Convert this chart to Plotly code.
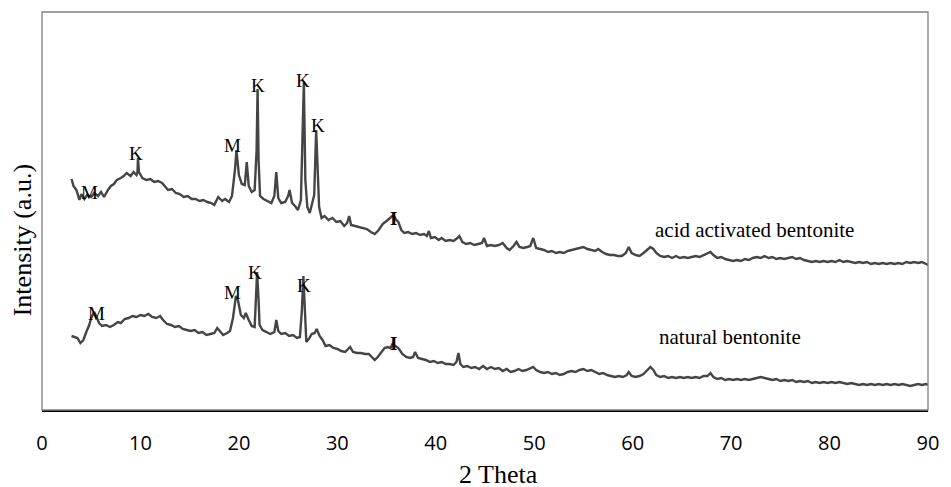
import plotly.graph_objects as go

# ---- data (2 theta in degrees, intensity in arbitrary units) ----
acid_theta = [
    3.0, 3.2, 3.5, 3.8, 4.0, 4.3, 4.6, 5.0, 5.3, 5.7,
    6.0, 6.3, 6.7, 7.0, 7.3, 7.6, 8.0, 8.3, 8.6, 9.0,
    9.3, 9.6, 9.7, 9.75, 9.85, 10.2, 10.6, 11.0, 11.4, 11.8,
    12.2, 12.5, 12.8, 13.2, 13.6, 14.0, 14.4, 14.8, 15.2, 15.6,
    16.0, 16.4, 16.8, 17.2, 17.5, 17.9, 18.3, 18.6, 19.0, 19.3,
    19.6, 19.75, 20.0, 20.3, 20.6, 20.8, 21.0, 21.3, 21.6, 21.8,
    21.9, 22.0, 22.15, 22.5, 22.9, 23.3, 23.6, 23.8, 24.0, 24.3,
    24.7, 25.0, 25.15, 25.4, 25.7, 26.0, 26.3, 26.5, 26.6, 26.75,
    26.95, 27.2, 27.5, 27.65, 27.85, 28.0, 28.15, 28.4, 28.7, 29.1,
    29.5, 29.9, 30.3, 30.7, 31.0, 31.2, 31.4, 31.8, 32.2, 32.6,
    33.0, 33.4, 33.8, 34.2, 34.6, 35.0, 35.4, 35.7, 36.0, 36.2,
    36.5, 36.8, 37.2, 37.6, 38.0, 38.4, 38.8, 39.1, 39.3, 39.5,
    39.9, 40.3, 40.6, 41.0, 41.4, 41.8, 42.2, 42.4, 42.7, 43.1,
    43.5, 43.9, 44.3, 44.7, 44.9, 45.2, 45.6, 46.0, 46.4, 46.8,
    47.2, 47.5, 47.9, 48.2, 48.5, 48.9, 49.3, 49.6, 49.9, 50.2,
    50.6, 51.0, 51.4, 51.8, 52.2, 52.6, 53.0, 53.4, 53.8, 54.2,
    54.6, 55.0, 55.4, 55.8, 56.2, 56.5, 56.9, 57.3, 57.7, 58.1,
    58.5, 58.9, 59.3, 59.6, 59.9, 60.3, 60.7, 61.1, 61.5, 61.8,
    62.1, 62.4, 62.8, 63.2, 63.6, 64.0, 64.4, 64.8, 65.2, 65.6,
    66.0, 66.4, 66.8, 67.2, 67.6, 67.9, 68.2, 68.6, 69.0, 69.4,
    69.8, 70.2, 70.6, 71.0, 71.4, 71.8, 72.2, 72.6, 73.0, 73.4,
    73.8, 74.2, 74.6, 75.0, 75.4, 75.8, 76.2, 76.6, 77.0, 77.4,
    77.8, 78.2, 78.6, 79.0, 79.4, 79.8, 80.2, 80.6, 81.0, 81.4,
    81.8, 82.2, 82.6, 83.0, 83.4, 83.8, 84.2, 84.6, 85.0, 85.4,
    85.8, 86.2, 86.6, 87.0, 87.4, 87.8, 88.2, 88.6, 89.0, 89.4,
    89.8, 90.0,
]
acid_intensity = [
    231, 224, 220, 210, 216, 211, 215, 213, 217, 214,
    218, 213, 220, 224, 226, 230, 232, 234, 237, 234,
    238, 235, 238, 252, 238, 232, 230, 231, 228, 229,
    227, 224, 220, 221, 217, 216, 213, 214, 211, 211,
    209, 210, 208, 207, 205, 213, 209, 211, 208, 214,
    240, 260, 235, 226, 225, 248, 224, 218, 220, 260,
    321, 250, 214, 211, 209, 207, 214, 238, 212, 207,
    208, 214, 220, 207, 204, 200, 210, 290, 328, 230,
    203, 197, 210, 215, 280, 235, 203, 192, 194, 190,
    192, 188, 189, 184, 187, 194, 185, 184, 183, 182,
    181, 178, 176, 180, 186, 189, 192, 195, 190, 188,
    180, 177, 178, 176, 177, 175, 176, 174, 179, 172,
    173, 170, 172, 169, 170, 169, 172, 174, 168, 166,
    167, 165, 166, 167, 172, 164, 165, 164, 165, 167,
    162, 160, 164, 168, 163, 162, 163, 164, 172, 162,
    161, 160, 158, 159, 157, 158, 157, 159, 160, 161,
    162, 163, 161, 160, 159, 161, 158, 156, 155, 155,
    154, 154, 157, 163, 157, 155, 154, 157, 161, 163,
    161, 157, 154, 153, 154, 152, 154, 152, 153, 152,
    153, 154, 153, 155, 157, 158, 155, 152, 153, 151,
    150, 149, 150, 149, 151, 150, 152, 153, 152, 154,
    152, 153, 151, 152, 151, 152, 153, 151, 152, 150,
    149, 148, 149, 148, 149, 148, 149, 148, 150, 148,
    149, 148, 147, 148, 147, 148, 146, 147, 146, 147,
    146, 147, 146, 147, 146, 148, 147, 148, 147, 148,
    146, 145,
]

natural_theta = [
    3.0, 3.3, 3.6, 3.9, 4.2, 4.5, 4.8, 5.0, 5.3, 5.5,
    5.8, 6.1, 6.5, 6.9, 7.3, 7.7, 8.0, 8.4, 8.8, 9.2,
    9.6, 10.0, 10.4, 10.8, 11.2, 11.6, 12.0, 12.3, 12.7, 13.1,
    13.5, 13.9, 14.3, 14.7, 15.1, 15.5, 15.9, 16.3, 16.7, 17.1,
    17.5, 17.8, 18.1, 18.4, 18.8, 19.1, 19.4, 19.7, 19.9, 20.2,
    20.5, 20.7, 21.0, 21.3, 21.6, 21.75, 21.85, 22.0, 22.1, 22.4,
    22.8, 23.2, 23.6, 23.8, 24.0, 24.3, 24.7, 25.1, 25.5, 25.9,
    26.2, 26.4, 26.55, 26.7, 26.85, 27.1, 27.4, 27.7, 27.9, 28.2,
    28.5, 28.8, 29.2, 29.6, 30.0, 30.4, 30.8, 31.1, 31.3, 31.6,
    32.0, 32.4, 32.8, 33.2, 33.5, 33.8, 34.1, 34.4, 34.8, 35.1,
    35.4, 35.6, 35.9, 36.2, 36.6, 37.0, 37.4, 37.7, 37.9, 38.2,
    38.6, 39.0, 39.4, 39.8, 40.2, 40.6, 41.0, 41.4, 41.8, 42.1,
    42.3, 42.5, 42.8, 43.2, 43.6, 44.0, 44.4, 44.8, 45.2, 45.6,
    46.0, 46.4, 46.8, 47.2, 47.6, 48.0, 48.4, 48.8, 49.2, 49.6,
    49.9, 50.2, 50.6, 51.0, 51.4, 51.8, 52.2, 52.6, 53.0, 53.4,
    53.8, 54.2, 54.6, 55.0, 55.4, 55.8, 56.2, 56.6, 57.0, 57.4,
    57.8, 58.2, 58.6, 59.0, 59.4, 59.6, 59.9, 60.3, 60.7, 61.1,
    61.5, 61.8, 62.1, 62.4, 62.8, 63.2, 63.6, 64.0, 64.4, 64.8,
    65.2, 65.6, 66.0, 66.4, 66.8, 67.2, 67.6, 67.9, 68.2, 68.6,
    69.0, 69.4, 69.8, 70.2, 70.6, 71.0, 71.4, 71.8, 72.2, 72.6,
    73.0, 73.4, 73.8, 74.2, 74.6, 75.0, 75.4, 75.8, 76.2, 76.6,
    77.0, 77.4, 77.8, 78.2, 78.6, 79.0, 79.4, 79.8, 80.2, 80.6,
    81.0, 81.4, 81.8, 82.2, 82.6, 83.0, 83.4, 83.8, 84.2, 84.6,
    85.0, 85.4, 85.8, 86.2, 86.6, 87.0, 87.4, 87.8, 88.2, 88.6,
    89.0, 89.4, 89.8, 90.0,
]
natural_intensity = [
    74, 73, 72, 67, 70, 78, 85, 92, 98, 94,
    87, 84, 85, 83, 85, 88, 87, 91, 92, 94,
    93, 95, 94, 96, 93, 92, 94, 90, 86, 85,
    83, 84, 81, 80, 79, 80, 77, 78, 75, 76,
    77, 82, 79, 75, 77, 79, 92, 114, 110, 95,
    92, 97, 90, 84, 83, 120, 138, 110, 85, 80,
    78, 76, 78, 90, 79, 76, 77, 74, 75, 72,
    73, 100, 134, 100, 68, 71, 76, 77, 81, 74,
    70, 64, 65, 62, 61, 59, 58, 61, 63, 58,
    57, 57, 56, 56, 53, 50, 53, 57, 62, 63,
    62, 66, 64, 62, 56, 53, 52, 53, 58, 52,
    51, 50, 48, 49, 47, 48, 46, 46, 45, 48,
    57, 46, 43, 44, 42, 43, 41, 44, 41, 43,
    41, 42, 39, 41, 38, 39, 41, 39, 40, 42,
    43, 40, 38, 37, 38, 36, 37, 35, 36, 38,
    39, 38, 40, 41, 39, 40, 38, 36, 37, 35,
    34, 33, 34, 33, 35, 38, 34, 33, 34, 36,
    40, 43, 40, 35, 33, 34, 32, 33, 32, 33,
    32, 33, 32, 33, 32, 34, 34, 37, 33, 31,
    32, 30, 31, 30, 31, 30, 31, 30, 31, 32,
    33, 32, 31, 30, 31, 29, 30, 29, 30, 28,
    29, 28, 29, 27, 28, 27, 28, 27, 28, 27,
    28, 27, 26, 27, 26, 25, 26, 25, 26, 25,
    26, 25, 26, 25, 26, 25, 26, 25, 24, 25,
    26, 25, 26, 25,
]

# peak labels: text, 2theta, intensity position
peak_text = ["M", "K", "M", "K", "K", "K", "I",
             "M", "M", "K", "K", "I"]
peak_theta = [4.8, 9.55, 19.4, 21.9, 26.55, 28.05, 35.7,
              5.5, 19.4, 21.6, 26.6, 35.7]
peak_int = [218, 257, 265, 325, 330, 285, 192,
            97, 118, 138, 125, 67]

series_names = ["acid activated bentonite", "natural bentonite"]
series_label_theta = [72.4, 69.9]
series_label_int = [180, 73]

x_ticks = [0, 10, 20, 30, 40, 50, 60, 70, 80, 90]

assert len(acid_theta) == len(acid_intensity)
assert len(natural_theta) == len(natural_intensity)

line_color = "#454545"
serif = "Liberation Serif"

fig = go.Figure()
fig.add_trace(go.Scatter(x=acid_theta, y=acid_intensity, mode="lines",
                         line=dict(color=line_color, width=2.4),
                         name=series_names[0], showlegend=False))
fig.add_trace(go.Scatter(x=natural_theta, y=natural_intensity, mode="lines",
                         line=dict(color=line_color, width=2.4),
                         name=series_names[1], showlegend=False))

annotations = []
for t, xv, yv in zip(peak_text, peak_theta, peak_int):
    annotations.append(dict(
        x=xv, y=yv, xref="x", yref="y", text=("<b>I</b>" if t == "I" else t),
        showarrow=False, xanchor="center", yanchor="middle",
        font=dict(family=serif, size=19, color="black")))
for name, xv, yv in zip(series_names, series_label_theta, series_label_int):
    annotations.append(dict(
        x=xv, y=yv, xref="x", yref="y", text=name, showarrow=False,
        xanchor="center", yanchor="middle",
        font=dict(family=serif, size=21, color="black")))
# axis titles
annotations.append(dict(x=0.515, y=-0.162, xref="paper", yref="paper",
                        text="2 Theta", showarrow=False,
                        xanchor="center", yanchor="middle",
                        font=dict(family=serif, size=26, color="black")))
annotations.append(dict(x=-0.0223, y=0.427, xref="paper", yref="paper",
                        text="Intensity (a.u.)", showarrow=False, textangle=-90,
                        xanchor="center", yanchor="middle",
                        font=dict(family=serif, size=26, color="black")))

fig.update_layout(
    width=951, height=487, autosize=False,
    margin=dict(l=42, r=14, t=12, b=77),
    paper_bgcolor="white", plot_bgcolor="white",
    annotations=annotations,
    shapes=[dict(type="rect", xref="paper", yref="paper", x0=0, x1=1, y0=0, y1=1,
                 line=dict(color="#808080", width=1.3), layer="above")],
    xaxis=dict(range=[0, 90], tickvals=x_ticks, ticktext=[str(v) for v in x_ticks],
               showgrid=False, zeroline=False, showline=True, linecolor="black",
               linewidth=2, ticks="outside", ticklen=14, tickcolor="rgba(0,0,0,0)",
               tickfont=dict(family="Open Sans", size=20, color="black")),
    yaxis=dict(range=[0, 398], showticklabels=False, showgrid=False,
               zeroline=False, showline=False, ticks=""),
)

fig.write_html(
    "out.html",
    config={"responsive": False, "displayModeBar": False, "staticPlot": True},
    post_script="document.body.style.margin='0px';document.body.style.padding='0px';"
                "document.body.style.overflow='hidden';",
)
